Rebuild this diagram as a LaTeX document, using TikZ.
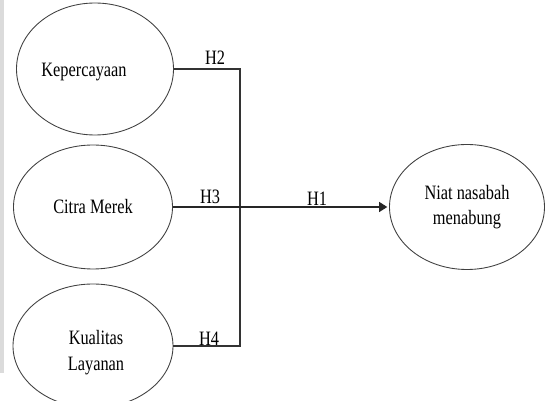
\documentclass[tikz,border=0pt]{standalone}
\usepackage{fontspec}
\setmainfont{Liberation Serif}
\usepackage{tikz}
\usetikzlibrary{arrows.meta,positioning,shapes.geometric}
\newcommand{\tallt}[1]{\scalebox{1}[1.25]{#1}}
\tikzset{
  varnode/.style  = {ellipse, draw=black!75, line width=0.5pt, align=center,
                     inner sep=0pt, font=\fontsize{9.3}{14.2}\selectfont},
  varlbl/.style   = {font=\fontsize{9.3}{14.6}\selectfont, inner sep=0pt, align=center},
  hyplbl/.style   = {font=\fontsize{9.3}{11}\selectfont, inner sep=0pt, anchor=base},
  hypline/.style  = {draw=black!80, line width=0.7pt},
  hypflow/.style  = {-{Triangle[length=4.6pt,width=5.6pt]}, draw=black!85, line width=0.8pt},
}
\begin{document}
\begin{tikzpicture}
  \useasboundingbox (0,0) rectangle (10.9,8.02);
  \fill[gray!28] (0,0.56) rectangle (0.08,8.02);

  \node[varnode, minimum width=3.14cm, minimum height=2.64cm,
        label={[varlbl, xshift=-0.22cm, yshift=-0.06cm]center:\tallt{Kepercayaan}}] (kep) at (1.90,6.64) {};
  \node[varnode, minimum width=3.18cm, minimum height=2.48cm] (cit) at (1.86,3.88) {\tallt{Citra Merek}};
  \node[varnode, minimum width=3.20cm, minimum height=2.48cm,
        label={[varlbl, xshift=0.06cm, yshift=-0.13cm]center:\tallt{Kualitas}\\\tallt{Layanan}}] (kua) at (1.86,1.10) {};
  \node[varnode, minimum width=3.10cm, minimum height=2.50cm] (niat) at (9.34,3.88)
        {\tallt{Niat nasabah}\\\tallt{menabung}};

  \coordinate (jtop) at (4.80,6.64);
  \coordinate (jbot) at (4.80,1.10);

  \draw[hypline] (kep.east) -- (jtop) -- (jbot) -- (kua.east);
  \draw[hypflow, shorten >=1pt] (cit.east) -- (niat.west);

  \node[hyplbl] (h2) at (4.30,6.72) {\tallt{H2}};
  \node[hyplbl] (h3) at (4.20,3.94) {\tallt{H3}};
  \node[hyplbl] (h4) at (4.18,1.10) {\tallt{H4}};
  \node[hyplbl] (h1) at (6.34,3.90) {\tallt{H1}};
\end{tikzpicture}
\end{document}
